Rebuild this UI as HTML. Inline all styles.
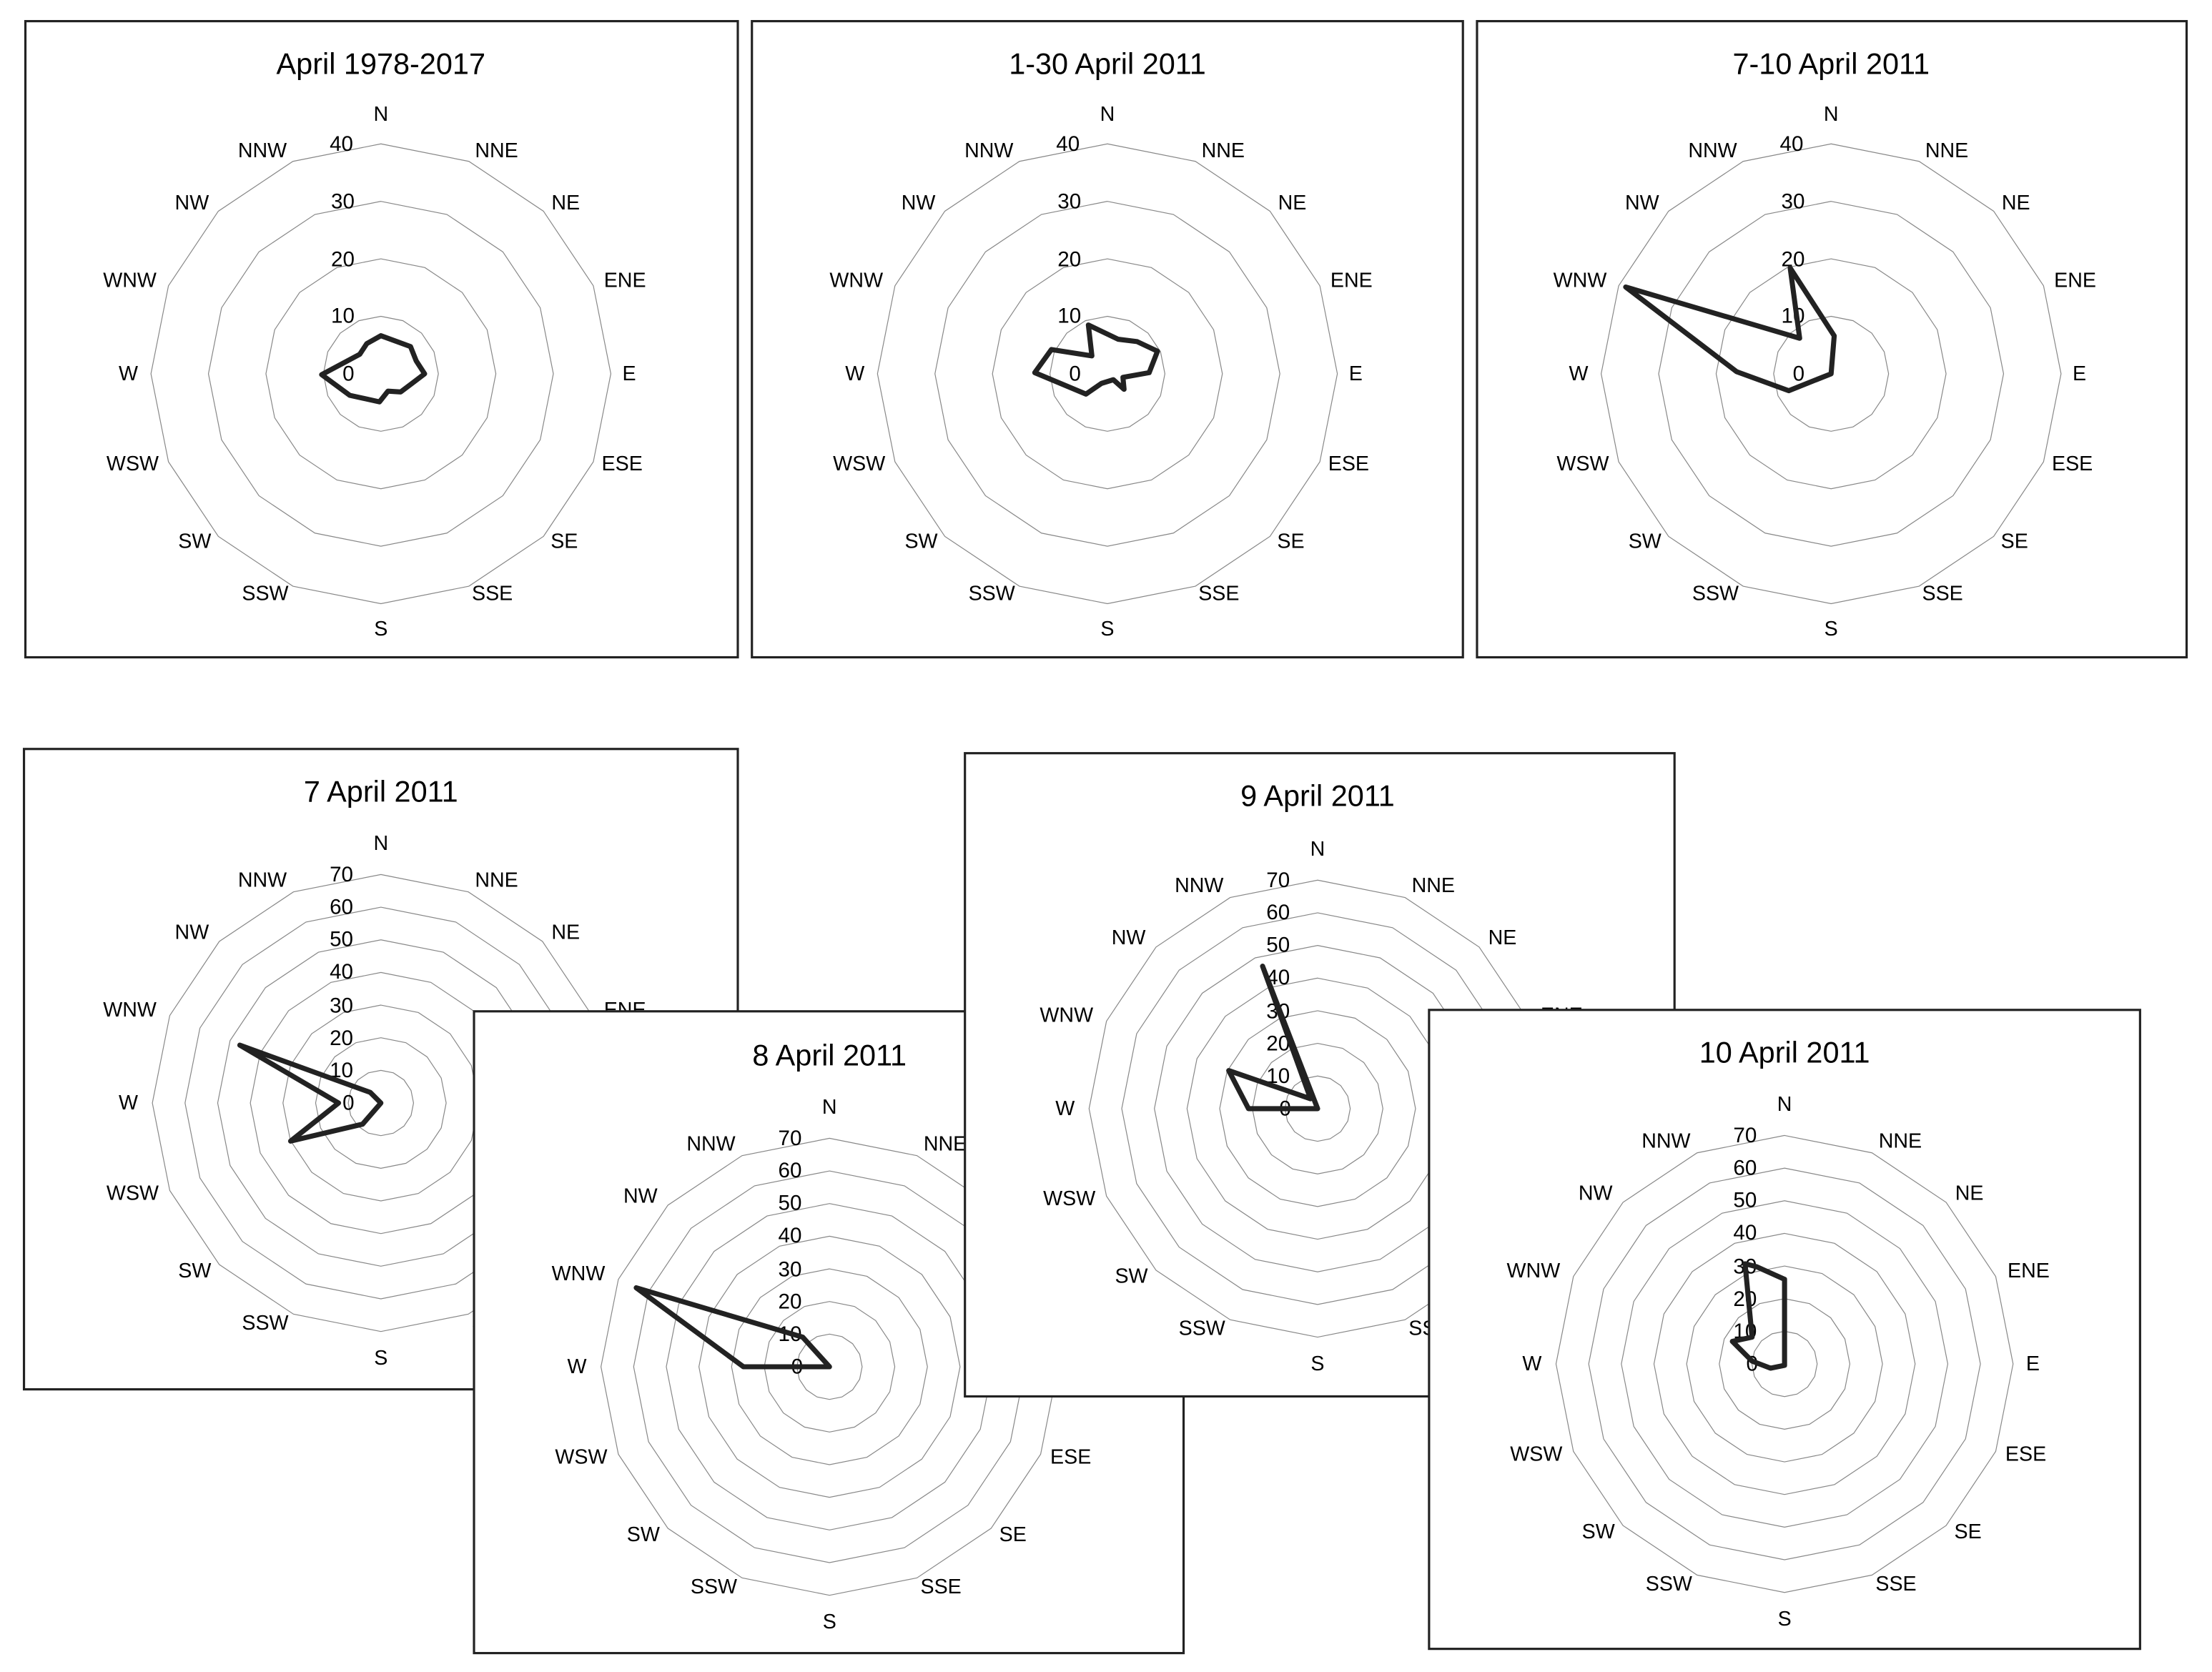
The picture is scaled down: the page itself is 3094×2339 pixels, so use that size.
<!DOCTYPE html>
<html><head><meta charset="utf-8"><style>
html,body{margin:0;padding:0;background:#fff;}
svg{display:block;}
text{font-family:"Liberation Sans",sans-serif;fill:#000;}
.t{font-size:21px;text-anchor:middle;dominant-baseline:central;}
.l{font-size:14.5px;text-anchor:middle;dominant-baseline:central;}
.v{font-size:15px;text-anchor:middle;dominant-baseline:central;}
.box{fill:#fff;stroke:#222;stroke-width:1.6;}
.ring{fill:none;stroke:#888;stroke-width:1.2;}
.d{fill:none;stroke:#222;stroke-width:3.6;stroke-linejoin:round;stroke-linecap:round;}
</style></head><body>
<svg width="3094" height="2339" viewBox="0 0 1568 1185.4" preserveAspectRatio="none" xmlns="http://www.w3.org/2000/svg">
<defs>
<polygon id="p16" vector-effect="non-scaling-stroke" points="0,-1 0.3827,-0.9239 0.7071,-0.7071 0.9239,-0.3827 1,0 0.9239,0.3827 0.7071,0.7071 0.3827,0.9239 0,1 -0.3827,0.9239 -0.7071,0.7071 -0.9239,0.3827 -1,0 -0.9239,-0.3827 -0.7071,-0.7071 -0.3827,-0.9239"/>
<g id="r4" class="ring">
<use href="#p16" transform="scale(40.75)"/><use href="#p16" transform="scale(81.5)"/><use href="#p16" transform="scale(122.25)"/><use href="#p16" transform="scale(163)"/>
</g>
<g id="r7" class="ring">
<use href="#p16" transform="scale(23.14)"/><use href="#p16" transform="scale(46.28)"/><use href="#p16" transform="scale(69.42)"/><use href="#p16" transform="scale(92.56)"/><use href="#p16" transform="scale(115.7)"/><use href="#p16" transform="scale(138.84)"/><use href="#p16" transform="scale(162)"/>
</g>
</defs>

<rect class="box" x="18" y="15" width="505" height="451"/>
<g transform="translate(270,265)">
<use href="#r4"/>
<text class="t" x="0" y="-220">April 1978-2017</text>
<text class="l" x="0" y="-184">N</text><text class="l" x="82" y="-158">NNE</text><text class="l" x="131" y="-121">NE</text><text class="l" x="173" y="-66">ENE</text><text class="l" x="176" y="0">E</text><text class="l" x="171" y="64">ESE</text><text class="l" x="130" y="119">SE</text><text class="l" x="79" y="156">SSE</text><text class="l" x="0" y="181">S</text><text class="l" x="-82" y="156">SSW</text><text class="l" x="-132" y="119">SW</text><text class="l" x="-176" y="64">WSW</text><text class="l" x="-179" y="0">W</text><text class="l" x="-178" y="-66">WNW</text><text class="l" x="-134" y="-121">NW</text><text class="l" x="-84" y="-158">NNW</text>
<text class="v" x="-28" y="-163">40</text><text class="v" x="-27" y="-122">30</text><text class="v" x="-27" y="-81">20</text><text class="v" x="-27" y="-41">10</text><text class="v" x="-23" y="0">0</text>
<polygon class="d" points="0,-27 21,-19.3 25,-9.2 31,0 23,6.1 14,12.9 5,12.3 -1,19.9 -22,15.3 -42,0.6 -15,-13.8 -10,-21.4"/>
</g>

<rect class="box" x="533" y="15" width="504" height="451"/>
<g transform="translate(785,265)">
<use href="#r4"/>
<text class="t" x="0" y="-220">1-30 April 2011</text>
<text class="l" x="0" y="-184">N</text><text class="l" x="82" y="-158">NNE</text><text class="l" x="131" y="-121">NE</text><text class="l" x="173" y="-66">ENE</text><text class="l" x="176" y="0">E</text><text class="l" x="171" y="64">ESE</text><text class="l" x="130" y="119">SE</text><text class="l" x="79" y="156">SSE</text><text class="l" x="0" y="181">S</text><text class="l" x="-82" y="156">SSW</text><text class="l" x="-132" y="119">SW</text><text class="l" x="-176" y="64">WSW</text><text class="l" x="-179" y="0">W</text><text class="l" x="-178" y="-66">WNW</text><text class="l" x="-134" y="-121">NW</text><text class="l" x="-84" y="-158">NNW</text>
<text class="v" x="-28" y="-163">40</text><text class="v" x="-27" y="-122">30</text><text class="v" x="-27" y="-81">20</text><text class="v" x="-27" y="-41">10</text><text class="v" x="-23" y="0">0</text>
<polygon class="d" points="-13.5,-34.6 7.6,-24.5 21.1,-22.8 35.5,-16 29.6,-0.8 11,2.5 11.8,11 4.2,4.2 -4.2,6.8 -15.2,14.4 -51.5,-0.8 -39.7,-17.2 -11,-12.7"/>
</g>

<rect class="box" x="1047" y="15" width="503" height="451"/>
<g transform="translate(1298,265)">
<use href="#r4"/>
<text class="t" x="0" y="-220">7-10 April 2011</text>
<text class="l" x="0" y="-184">N</text><text class="l" x="82" y="-158">NNE</text><text class="l" x="131" y="-121">NE</text><text class="l" x="173" y="-66">ENE</text><text class="l" x="176" y="0">E</text><text class="l" x="171" y="64">ESE</text><text class="l" x="130" y="119">SE</text><text class="l" x="79" y="156">SSE</text><text class="l" x="0" y="181">S</text><text class="l" x="-82" y="156">SSW</text><text class="l" x="-132" y="119">SW</text><text class="l" x="-176" y="64">WSW</text><text class="l" x="-179" y="0">W</text><text class="l" x="-178" y="-66">WNW</text><text class="l" x="-134" y="-121">NW</text><text class="l" x="-84" y="-158">NNW</text>
<text class="v" x="-28" y="-163">40</text><text class="v" x="-27" y="-122">30</text><text class="v" x="-27" y="-81">20</text><text class="v" x="-27" y="-41">10</text><text class="v" x="-23" y="0">0</text>
<polygon class="d" points="-29,-75 -22.3,-25.2 -145.6,-61.5 -67,-1.5 -30,12 0,0 2.2,-26.9"/>
</g>

<rect class="box" x="17" y="531" width="506" height="454"/>
<g transform="translate(270,782)">
<use href="#r7"/>
<text class="t" x="0" y="-221">7 April 2011</text>
<text class="l" x="0" y="-184">N</text><text class="l" x="82" y="-158">NNE</text><text class="l" x="131" y="-121">NE</text><text class="l" x="173" y="-66">ENE</text><text class="l" x="176" y="0">E</text><text class="l" x="171" y="64">ESE</text><text class="l" x="130" y="119">SE</text><text class="l" x="79" y="156">SSE</text><text class="l" x="0" y="181">S</text><text class="l" x="-82" y="156">SSW</text><text class="l" x="-132" y="119">SW</text><text class="l" x="-176" y="64">WSW</text><text class="l" x="-179" y="0">W</text><text class="l" x="-178" y="-66">WNW</text><text class="l" x="-134" y="-121">NW</text><text class="l" x="-84" y="-158">NNW</text>
<text class="v" x="-28" y="-162">70</text><text class="v" x="-28" y="-139">60</text><text class="v" x="-28" y="-116">50</text><text class="v" x="-28" y="-93">40</text><text class="v" x="-28" y="-69">30</text><text class="v" x="-28" y="-46">20</text><text class="v" x="-28" y="-23">10</text><text class="v" x="-23" y="0">0</text>
<polygon class="d" points="-30,0 -100,-41 -7.5,-7.5 0,0 -13,15 -64,27"/>
</g>

<rect class="box" x="336" y="717" width="503" height="455"/>
<g transform="translate(588,969)">
<use href="#r7"/>
<text class="t" x="0" y="-221">8 April 2011</text>
<text class="l" x="0" y="-184">N</text><text class="l" x="82" y="-158">NNE</text><text class="l" x="131" y="-121">NE</text><text class="l" x="173" y="-66">ENE</text><text class="l" x="176" y="0">E</text><text class="l" x="171" y="64">ESE</text><text class="l" x="130" y="119">SE</text><text class="l" x="79" y="156">SSE</text><text class="l" x="0" y="181">S</text><text class="l" x="-82" y="156">SSW</text><text class="l" x="-132" y="119">SW</text><text class="l" x="-176" y="64">WSW</text><text class="l" x="-179" y="0">W</text><text class="l" x="-178" y="-66">WNW</text><text class="l" x="-134" y="-121">NW</text><text class="l" x="-84" y="-158">NNW</text>
<text class="v" x="-28" y="-162">70</text><text class="v" x="-28" y="-139">60</text><text class="v" x="-28" y="-116">50</text><text class="v" x="-28" y="-93">40</text><text class="v" x="-28" y="-69">30</text><text class="v" x="-28" y="-46">20</text><text class="v" x="-28" y="-23">10</text><text class="v" x="-23" y="0">0</text>
<polygon class="d" points="-137,-56 -19,-21 0,0 -61,0"/>
</g>

<rect class="box" x="684" y="534" width="503" height="456"/>
<g transform="translate(934,786)">
<use href="#r7"/>
<text class="t" x="0" y="-222">9 April 2011</text>
<text class="l" x="0" y="-184">N</text><text class="l" x="82" y="-158">NNE</text><text class="l" x="131" y="-121">NE</text><text class="l" x="173" y="-66">ENE</text><text class="l" x="176" y="0">E</text><text class="l" x="171" y="64">ESE</text><text class="l" x="130" y="119">SE</text><text class="l" x="79" y="156">SSE</text><text class="l" x="0" y="181">S</text><text class="l" x="-82" y="156">SSW</text><text class="l" x="-132" y="119">SW</text><text class="l" x="-176" y="64">WSW</text><text class="l" x="-179" y="0">W</text><text class="l" x="-178" y="-66">WNW</text><text class="l" x="-134" y="-121">NW</text><text class="l" x="-84" y="-158">NNW</text>
<text class="v" x="-28" y="-162">70</text><text class="v" x="-28" y="-139">60</text><text class="v" x="-28" y="-116">50</text><text class="v" x="-28" y="-93">40</text><text class="v" x="-28" y="-69">30</text><text class="v" x="-28" y="-46">20</text><text class="v" x="-28" y="-23">10</text><text class="v" x="-23" y="0">0</text>
<polygon class="d" points="-39,-101 0,0 -49,0 -63,-27 -5,-7"/>
</g>

<rect class="box" x="1013" y="716" width="504" height="453"/>
<g transform="translate(1265,967)">
<use href="#r7"/>
<text class="t" x="0" y="-221">10 April 2011</text>
<text class="l" x="0" y="-184">N</text><text class="l" x="82" y="-158">NNE</text><text class="l" x="131" y="-121">NE</text><text class="l" x="173" y="-66">ENE</text><text class="l" x="176" y="0">E</text><text class="l" x="171" y="64">ESE</text><text class="l" x="130" y="119">SE</text><text class="l" x="79" y="156">SSE</text><text class="l" x="0" y="181">S</text><text class="l" x="-82" y="156">SSW</text><text class="l" x="-132" y="119">SW</text><text class="l" x="-176" y="64">WSW</text><text class="l" x="-179" y="0">W</text><text class="l" x="-178" y="-66">WNW</text><text class="l" x="-134" y="-121">NW</text><text class="l" x="-84" y="-158">NNW</text>
<text class="v" x="-28" y="-162">70</text><text class="v" x="-28" y="-139">60</text><text class="v" x="-28" y="-116">50</text><text class="v" x="-28" y="-93">40</text><text class="v" x="-28" y="-69">30</text><text class="v" x="-28" y="-46">20</text><text class="v" x="-28" y="-23">10</text><text class="v" x="-23" y="0">0</text>
<polygon class="d" points="-28,-71 -20,-69 0,-60 0,1 -10,3 -23,-2 -37,-16 -23,-19"/>
</g>
</svg>
</body></html>
